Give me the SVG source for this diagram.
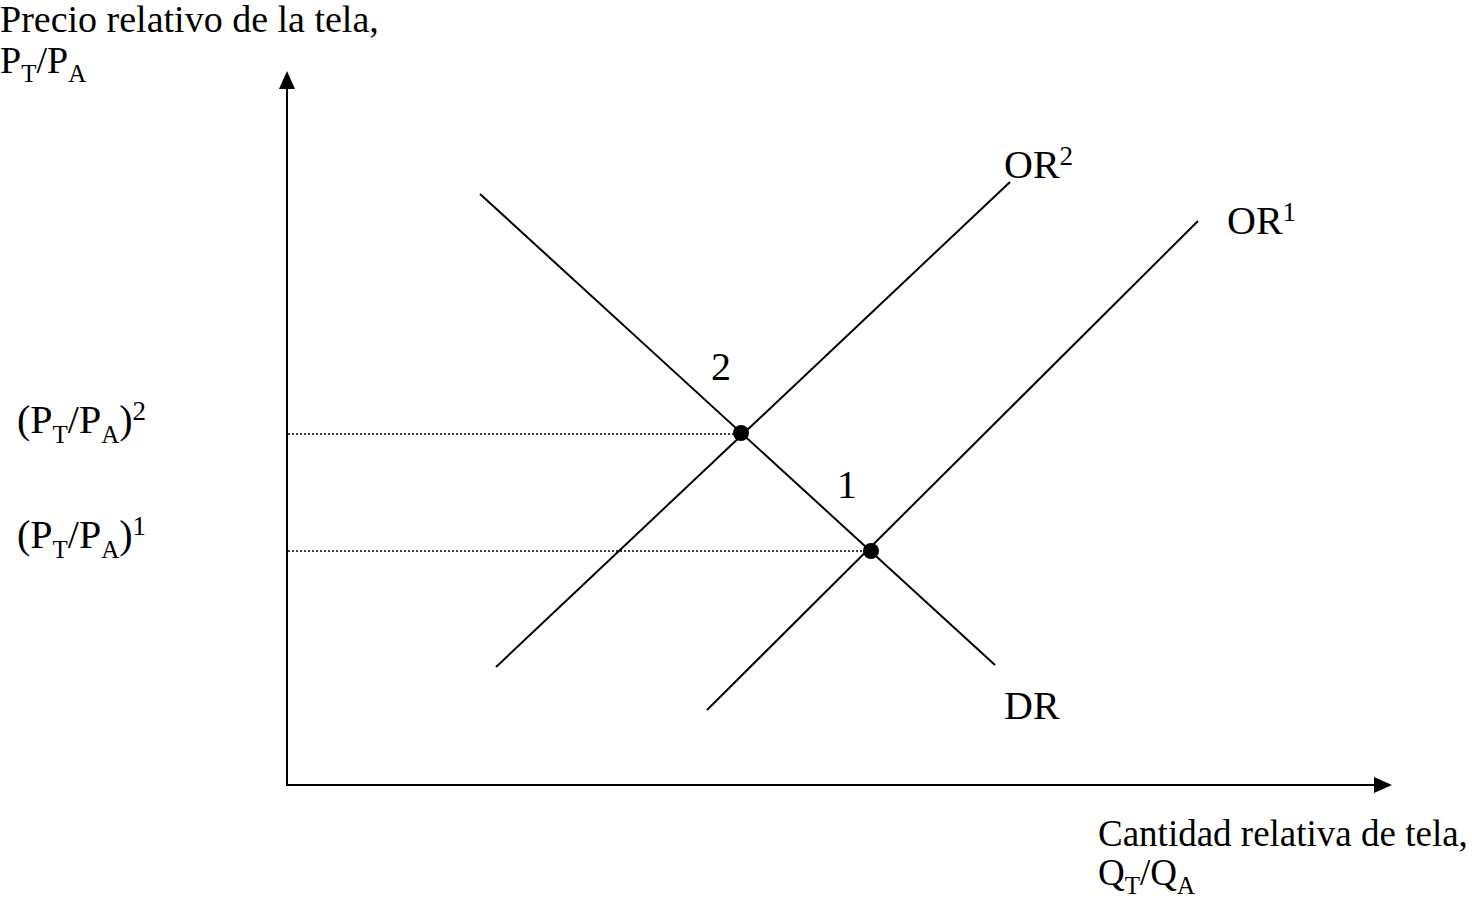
<svg xmlns="http://www.w3.org/2000/svg" width="1472" height="901" viewBox="0 0 1472 901">
<style>
text{font-family:"Liberation Serif","Times New Roman",serif;fill:#000;}
.t{font-size:37px;}
.h{font-size:38px;}
.l{font-size:40px;}
.s{font-size:25px;}
.ss{font-size:27px;}
.ln{stroke:#000;stroke-width:2;fill:none;}
.dot{stroke:#000;stroke-width:1.5;stroke-dasharray:2 2;fill:none;}
</style>
<rect width="1472" height="901" fill="#fff"/>
<g id="axes">
<line class="ln" x1="287" y1="786" x2="287" y2="88"/>
<path d="M287,71 L279,89 L295,89 Z" fill="#000"/>
<line class="ln" x1="286" y1="785" x2="1376" y2="785"/>
<path d="M1392,785 L1374,777 L1374,793 Z" fill="#000"/>
</g>
<g id="connectors">
<line class="ln" x1="480" y1="194" x2="995" y2="665"/>
<line class="ln" x1="496" y1="667" x2="1010" y2="182"/>
<line class="ln" x1="707" y1="710" x2="1198" y2="221"/>
<line class="dot" x1="288" y1="434" x2="741" y2="434"/>
<line class="dot" x1="288" y1="551" x2="871" y2="551"/>
</g>
<g id="point2"><circle cx="741" cy="433" r="8" fill="#000"/><text class="l" x="711" y="380">2</text></g>
<g id="point1"><circle cx="871" cy="551" r="8" fill="#000"/><text class="l" x="837" y="498">1</text></g>
<g id="label-OR2"><text class="l" x="1004" y="178">OR<tspan class="ss" dy="-13">2</tspan></text></g>
<g id="label-OR1"><text class="l" x="1227" y="234">OR<tspan class="ss" dy="-13">1</tspan></text></g>
<g id="label-DR"><text class="l" x="1004" y="719">DR</text></g>
<g id="y-title">
<text class="h" x="0" y="32">Precio relativo de la tela,</text>
<text class="h" x="0" y="73">P<tspan class="s" dy="9">T</tspan><tspan dy="-9">/P</tspan><tspan class="s" dy="9">A</tspan></text>
</g>
<g id="price2"><text class="l" x="17" y="433">(P<tspan class="s" dy="10">T</tspan><tspan dy="-10">/P</tspan><tspan class="s" dy="10">A</tspan><tspan dy="-10">)</tspan><tspan class="ss" dy="-13">2</tspan></text></g>
<g id="price1"><text class="l" x="17" y="548">(P<tspan class="s" dy="10">T</tspan><tspan dy="-10">/P</tspan><tspan class="s" dy="10">A</tspan><tspan dy="-10">)</tspan><tspan class="ss" dy="-13">1</tspan></text></g>
<g id="x-title">
<text class="t" x="1098" y="846">Cantidad relativa de tela,</text>
<text class="t" x="1098" y="885">Q<tspan class="s" dy="9">T</tspan><tspan dy="-9">/Q</tspan><tspan class="s" dy="9">A</tspan></text>
</g>
</svg>
